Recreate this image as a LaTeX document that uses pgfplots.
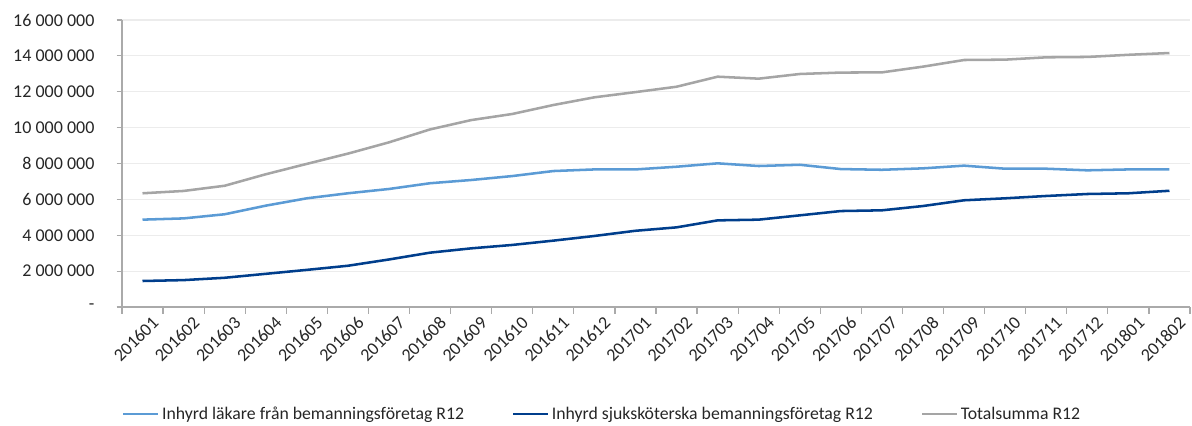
\documentclass[border=0pt]{standalone}
\usepackage{fontspec}
\setmainfont{Carlito}
\usepackage{pgfplots}
\pgfplotsset{compat=1.18}
\definecolor{lakare}{RGB}{91,155,213}
\definecolor{sjuk}{RGB}{0,62,140}
\definecolor{total}{RGB}{165,165,165}
\definecolor{axgray}{RGB}{170,170,170}
\definecolor{gridgray}{RGB}{236,236,236}

\begin{document}
\begin{tikzpicture}
\begin{axis}[
  width=801pt, height=215.25pt, scale only axis,
  xmin=-0.5, xmax=25.5, ymin=0, ymax=16000000,
  clip=false, scaled y ticks=false,
  axis x line*=bottom, axis y line*=left,
  axis line style={axgray, line width=0.9pt},
  xtick={0,...,25}, major x tick style={draw=none},
  minor xtick={-0.5,0.5,...,25.5},
  minor tick length=5pt, tick align=outside,
  minor x tick style={axgray, line width=0.9pt},
  xticklabels={201601,201602,201603,201604,201605,201606,201607,201608,201609,201610,201611,201612,201701,201702,201703,201704,201705,201706,201707,201708,201709,201710,201711,201712,201801,201802},
  xticklabel style={rotate=45, anchor=north east, inner sep=0pt, xshift=3pt, yshift=-6pt},
  ytick={0,2000000,...,16000000},
  yticklabels={{-\hspace{7pt}},2 000 000,4 000 000,6 000 000,8 000 000,10 000 000,12 000 000,14 000 000,16 000 000},
  yticklabel style={anchor=east, inner sep=0pt, xshift=-16.5pt},
  major y tick style={axgray, line width=0.9pt},
  major tick length=4pt,
  ymajorgrids, grid style={gridgray, line width=0.9pt},
  tick label style={font=\fontsize{13.5}{16}\selectfont, text=black!85},
  legend columns=3,
  legend style={draw=none, fill=none, at={(0,-0.373)}, anchor=west,
    font=\fontsize{13.3}{16}\selectfont, text=black!85, inner sep=0pt,
    nodes={inner sep=0pt},
    /tikz/every odd column/.append style={column sep=2pt},
    /tikz/every even column/.append style={column sep=36pt}},
  legend image code/.code={\draw[#1] (0pt,0pt) -- (26pt,0pt);},
  every axis plot/.append style={line width=1.9pt, mark=none, sharp plot},
]
\addplot[lakare] coordinates {
 (0,4870000) (1,4940000) (2,5170000) (3,5650000) (4,6060000) (5,6340000)
 (6,6580000) (7,6900000) (8,7080000) (9,7300000) (10,7580000) (11,7670000)
 (12,7670000) (13,7820000) (14,8010000) (15,7860000) (16,7930000) (17,7690000)
 (18,7650000) (19,7730000) (20,7880000) (21,7710000) (22,7710000) (23,7620000)
 (24,7670000) (25,7670000)};
\addlegendentry{Inhyrd läkare från bemanningsföretag R12}
\addplot[sjuk] coordinates {
 (0,1450000) (1,1500000) (2,1630000) (3,1850000) (4,2070000) (5,2300000)
 (6,2650000) (7,3030000) (8,3270000) (9,3460000) (10,3700000) (11,3960000)
 (12,4250000) (13,4440000) (14,4830000) (15,4870000) (16,5110000) (17,5350000)
 (18,5390000) (19,5630000) (20,5950000) (21,6060000) (22,6190000) (23,6300000)
 (24,6340000) (25,6480000)};
\addlegendentry{Inhyrd sjuksköterska bemanningsföretag R12}
\addplot[total] coordinates {
 (0,6340000) (1,6470000) (2,6760000) (3,7400000) (4,7980000) (5,8550000)
 (6,9180000) (7,9900000) (8,10420000) (9,10760000) (10,11260000) (11,11690000)
 (12,11980000) (13,12280000) (14,12840000) (15,12730000) (16,12990000) (17,13070000)
 (18,13080000) (19,13400000) (20,13770000) (21,13790000) (22,13920000) (23,13940000)
 (24,14060000) (25,14160000)};
\addlegendentry{Totalsumma R12}
\path (rel axis cs:-0.1142,1.0697) rectangle (rel axis cs:1.00187,-0.4111);
\end{axis}
\end{tikzpicture}
\end{document}
